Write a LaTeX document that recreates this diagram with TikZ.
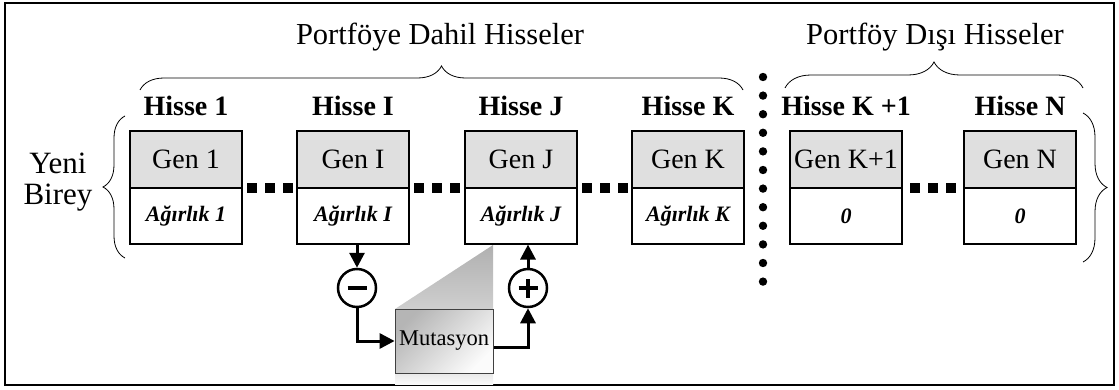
\documentclass[tikz,border=0pt]{standalone}
\usepackage{fontspec}
\setmainfont{Liberation Serif}
\usetikzlibrary{decorations.pathreplacing,arrows.meta,calc}
\begin{document}
\begin{tikzpicture}[x=1pt,y=1pt,
  gencell/.style={draw, line width=1.1pt, fill=gray!25, minimum width=112pt, minimum height=57pt, inner sep=0pt, font=\fontsize{28}{30}\selectfont},
  wcell/.style={draw, line width=1.1pt, fill=white, minimum width=112pt, minimum height=56pt, inner sep=0pt, font=\fontsize{22}{26}\selectfont\bfseries\itshape},
  hisse/.style={font=\fontsize{28}{30}\selectfont\bfseries, anchor=base, inner sep=0pt},
  title/.style={font=\fontsize{30.5}{32}\selectfont, anchor=base, inner sep=0pt},
  brc/.style={decorate, line width=0.8pt},
  arr/.style={line width=3pt, -{Triangle[length=15pt,width=15pt]}},
  opc/.style={circle, draw, line width=2.5pt, minimum size=38pt, inner sep=0pt},
]
\useasboundingbox (0,0) rectangle (1119,-390);
\draw[line width=2.2pt] (5,-3) rectangle (1114,-385);

% titles and braces
\node[title] (t1) at (440,-45) {Portföye Dahil Hisseler};
\node[title] (t2) at (935,-45) {Portföy Dışı Hisseler};
\draw[brc, decoration={brace, amplitude=24pt}] (140,-90) -- (743,-90);
\draw[brc, decoration={brace, amplitude=26pt}] (785,-88) -- (1083,-88);
\draw[brc, decoration={brace, amplitude=22pt}] (125,-258) -- (125,-116);
\draw[brc, decoration={brace, amplitude=24pt}] (1083,-113) -- (1083,-262);

\node[font=\fontsize{31}{31}\selectfont, align=center, inner sep=0pt] (yb) at (58,-182) {Yeni\\Birey};

% genes
\foreach \n/\x/\h/\g/\w in {1/186/Hisse 1/Gen 1/Ağırlık 1, I/353/Hisse I/Gen I/Ağırlık I, J/521/Hisse J/Gen J/Ağırlık J, K/688/Hisse K/Gen K/Ağırlık K, K1/846/Hisse K +1/Gen K+1/0, N/1020/Hisse N/Gen N/0}{
  \node[hisse] (h\n) at (\x,-116) {\h};
  \node[gencell] (g\n) at (\x,-159.5) {\g};
  \node[wcell] (w\n) at (\x,-216) {\w};
}

% ellipsis squares
\foreach \m in {269.5,437,604.5,933}{
  \foreach \d in {-18,0,18}{
    \fill ({\m+\d-5},-183) rectangle ({\m+\d+5},-193);
  }
}

% vertical dots
\foreach \k in {0,...,11}{
  \fill (763,{-77-18.6*\k}) circle (4.2pt);
}

% mutation shadow
\shade[top color=gray!62, bottom color=gray!38] (395,-309) -- (493,-245) -- (493,-309) -- cycle;
\shade[top color=gray!18, bottom color=gray!4] (395,-373) rectangle (493,-384);
\node[draw=gray!50!black, line width=0.8pt, minimum width=98pt, minimum height=64pt, inner sep=0pt,
      top color=gray!58, bottom color=gray!3, shading angle=45,
      font=\fontsize{22.5}{24}\selectfont] (mut) at (444,-341) {Mutasyon};

% operators
\node[opc] (minus) at (357,-288) {};
\draw[line width=4pt] ($(minus)+(-9.5,0)$) -- ($(minus)+(9.5,0)$);
\node[opc] (plus) at (528,-288) {};
\draw[line width=4pt] ($(plus)+(-9.5,0)$) -- ($(plus)+(9.5,0)$);
\draw[line width=4pt] ($(plus)+(0,-9.5)$) -- ($(plus)+(0,9.5)$);

\coordinate (mo) at (494,-347);
\draw[arr] (minus |- wI.south) -- (minus.north);
\draw[arr] (minus.south) |- (mut.west);
\draw[arr] (mo) -| (plus.south);
\draw[arr] (plus.north) -- (plus |- wJ.south);
\end{tikzpicture}
\end{document}
